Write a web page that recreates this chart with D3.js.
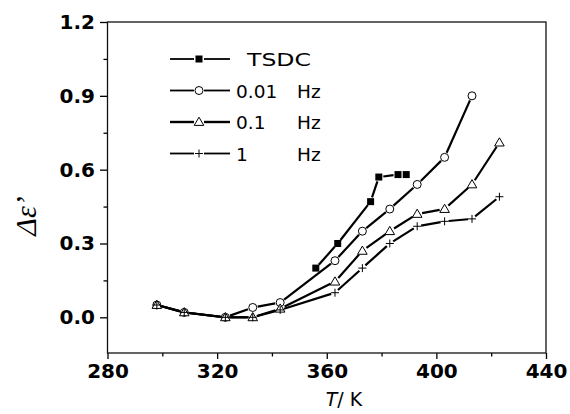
<!doctype html>
<html lang="en">
<head>
<meta charset="UTF-8">
<title>Delta epsilon vs T</title>
<style>
  body { margin: 0; background: #fff; }
  svg { display: block; }
  .tick text { font-family: "DejaVu Sans", sans-serif; font-weight: bold; font-size: 20px; fill: #000; }
  .tick line { stroke: #000; stroke-width: 1.3; }
</style>
</head>
<body>
<div class="chart"></div>
<script src="https://d3js.org/d3.v7.min.js"></script>
<script>
// values
const tsdcT = [356, 364, 376, 379, 386, 389]
const tsdcVal = [0.20, 0.30, 0.47, 0.57, 0.58, 0.58]
const hz001T = [298, 308, 323, 333, 343, 363, 373, 383, 393, 403, 413]
const hz001Val = [0.05, 0.02, 0.0, 0.04, 0.06, 0.23, 0.35, 0.44, 0.54, 0.65, 0.90]
const hz01T = [298, 308, 323, 333, 343, 363, 373, 383, 393, 403, 413, 423]
const hz01Val = [0.05, 0.02, 0.0, 0.0, 0.035, 0.145, 0.27, 0.35, 0.42, 0.44, 0.54, 0.71]
const hz1T = [298, 308, 323, 333, 343, 363, 373, 383, 393, 403, 413, 423]
const hz1Val = [0.05, 0.02, 0.0, 0.0, 0.03, 0.10, 0.20, 0.30, 0.37, 0.39, 0.40, 0.49]

const legendLabels = ['TSDC', '0.01 Hz', '0.1 Hz', '1 Hz']
const xTicks = [280, 320, 360, 400, 440]
const xMinor = [300, 340, 380, 420]
const yTicks = [0.0, 0.3, 0.6, 0.9, 1.2]
const yMinor = [0.15, 0.45, 0.75, 1.05]

const width = 570
const height = 414
const margin = { left: 107.5, right: 546, top: 22, bottom: 353 }

const x = d3.scaleLinear().domain([280, 440]).range([margin.left, margin.right])
const y = d3.scaleLinear().domain([-0.145, 1.2]).range([margin.bottom, margin.top])

const svg = d3.select('.chart').append('svg')
  .attr('width', width).attr('height', height)

// axes
const xAxis = svg.append('g').attr('transform', `translate(0, ${margin.bottom})`)
  .call(d3.axisBottom(x).tickValues(xTicks).tickFormat(d3.format('d')).tickSize(6).tickPadding(5))
xAxis.select('.domain').remove()
const xAxisMinor = svg.append('g').attr('transform', `translate(0, ${margin.bottom})`)
  .call(d3.axisBottom(x).tickValues(xMinor).tickFormat('').tickSize(3.5))
xAxisMinor.select('.domain').remove()

const yAxis = svg.append('g').attr('transform', `translate(${margin.left}, 0)`)
  .call(d3.axisLeft(y).tickValues(yTicks).tickFormat(d3.format('.1f')).tickSize(7.5).tickPadding(5))
yAxis.select('.domain').remove()
const yAxisMinor = svg.append('g').attr('transform', `translate(${margin.left}, 0)`)
  .call(d3.axisLeft(y).tickValues(yMinor).tickFormat('').tickSize(4))
yAxisMinor.select('.domain').remove()

// frame
svg.append('rect')
  .attr('x', margin.left).attr('y', margin.top)
  .attr('width', margin.right - margin.left).attr('height', margin.bottom - margin.top)
  .attr('fill', 'none').attr('stroke', '#111').attr('stroke-width', 1.3)

// axis titles
const xTitle = svg.append('text')
  .attr('x', 344).attr('y', 406)
  .attr('text-anchor', 'middle')
  .style('font-family', '"DejaVu Sans", sans-serif')
  .style('font-size', '19px')
xTitle.append('tspan').style('font-style', 'italic').text('T')
xTitle.append('tspan').text('/ K')

svg.append('text')
  .attr('transform', 'translate(36, 216) rotate(-90)')
  .attr('text-anchor', 'middle')
  .style('font-family', '"Liberation Serif", serif')
  .style('font-style', 'italic')
  .style('font-size', '30px')
  .text('\u0394\u03b5\u2019')

// marker shapes
function drawMarker(g, kind, cx, cy) {
  if (kind === 'square') {
    g.append('rect').attr('x', cx - 3.5).attr('y', cy - 3.5).attr('width', 7).attr('height', 7)
      .attr('fill', '#000')
  } else if (kind === 'circle') {
    g.append('circle').attr('cx', cx).attr('cy', cy).attr('r', 4)
      .attr('fill', '#fff').attr('stroke', '#000').attr('stroke-width', 1)
  } else if (kind === 'triangle') {
    g.append('path')
      .attr('d', `M${cx},${cy - 4.8}L${cx + 4.8},${cy + 3.4}L${cx - 4.8},${cy + 3.4}Z`)
      .attr('fill', '#fff').attr('stroke', '#000').attr('stroke-width', 1)
  } else {
    g.append('path')
      .attr('d', `M${cx - 4},${cy}H${cx + 4}M${cx},${cy - 4}V${cy + 4}`)
      .attr('stroke', '#000').attr('stroke-width', 1)
  }
}

// segments broken around each symbol
function drawSegments(g, pts, gap) {
  for (let i = 0; i < pts.length - 1; i++) {
    const [x0, y0] = pts[i]
    const [x1, y1] = pts[i + 1]
    const d = Math.hypot(x1 - x0, y1 - y0)
    if (d <= gap * 2 + 1) continue
    const ux = (x1 - x0) / d, uy = (y1 - y0) / d
    g.append('line')
      .attr('x1', x0 + ux * gap).attr('y1', y0 + uy * gap)
      .attr('x2', x1 - ux * gap).attr('y2', y1 - uy * gap)
      .attr('stroke', '#000').attr('stroke-width', 2.2)
  }
}

const series = [
  { T: hz001T, v: hz001Val, kind: 'circle', gap: 5 },
  { T: hz01T, v: hz01Val, kind: 'triangle', gap: 5 },
  { T: hz1T, v: hz1Val, kind: 'plus', gap: 4 },
  { T: tsdcT, v: tsdcVal, kind: 'square', gap: 4.5 }
]

const plot = svg.append('g')
series.forEach(s => {
  const pts = s.T.map((t, i) => [x(t), y(s.v[i])])
  drawSegments(plot, pts, s.gap)
})
series.forEach(s => {
  s.T.forEach((t, i) => drawMarker(plot, s.kind, x(t), y(s.v[i])))
})

// legend
const legendKinds = ['square', 'circle', 'triangle', 'plus']
const legend = svg.append('g')
legendLabels.forEach((label, i) => {
  const ly = 59 + i * 31.5
  const row = legend.append('g')
  const lw = i === 2 ? 2.4 : 1.8
  row.append('line').attr('x1', 170).attr('x2', 194).attr('y1', ly).attr('y2', ly)
    .attr('stroke', '#000').attr('stroke-width', lw)
  row.append('line').attr('x1', 204).attr('x2', 230).attr('y1', ly).attr('y2', ly)
    .attr('stroke', '#000').attr('stroke-width', lw)
  drawMarker(row, legendKinds[i], 199, ly)
  const parts = label.split(' ')
  const txt = row.append('text')
    .attr('y', ly + 7)
    .style('font-family', '"DejaVu Sans", sans-serif')
    .style('font-size', '18.5px')
  if (parts.length === 1) {
    txt.attr('x', 247).attr('textLength', 64).attr('lengthAdjust', 'spacingAndGlyphs').text(parts[0])
  } else {
    txt.append('tspan').attr('x', 236).text(parts[0])
    txt.append('tspan').attr('x', 297).text(parts[1])
  }
})
</script>
</body>
</html>
